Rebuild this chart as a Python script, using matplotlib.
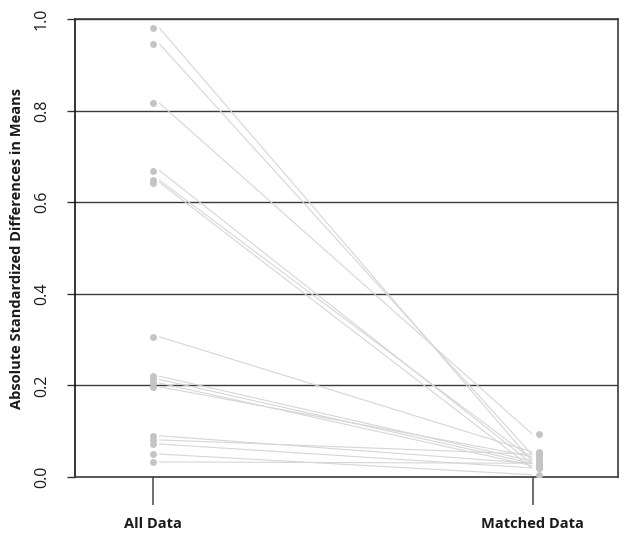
import matplotlib
matplotlib.use("Agg")
import matplotlib.pyplot as plt
import numpy as np

categories = ["All Data", "Matched Data"]
all_data = [0.980, 0.945, 0.816, 0.669, 0.648, 0.643, 0.306, 0.220,
            0.213, 0.205, 0.197, 0.090, 0.081, 0.072, 0.050, 0.033]
matched_data = [0.035, 0.050, 0.095, 0.030, 0.040, 0.020, 0.055, 0.035,
                0.030, 0.025, 0.045, 0.030, 0.050, 0.020, 0.005, 0.030]
yticks = [0.0, 0.2, 0.4, 0.6, 0.8, 1.0]
ytick_labels = ["0.0", "0.2", "0.4", "0.6", "0.8", "1.0"]

fig = plt.figure(figsize=(6.29, 5.39), dpi=100)
ax = fig.add_axes([0.119, 0.115, 0.8635, 0.8497])

ax.set_xlim(-0.205, 1.224)
ax.set_ylim(0, 1.0)

for yv in yticks[1:]:
    ax.axhline(yv, color="#3a3a3a", lw=1.0, zorder=1)

line_color = "#d6d6d6"
dot_color = "#c4c4c4"
for a, m in zip(all_data, matched_data):
    ax.plot([0.018, 0.997], [a, m], color=line_color, lw=0.8, zorder=2)
ax.plot([0] * len(all_data), all_data, "o", color=dot_color, ms=5, mec="none", zorder=3)
ax.plot([1.016] * len(matched_data), matched_data, "o", color=dot_color, ms=5, mec="none", zorder=3)

ax.set_xticks([0, 1])
ax.set_xticklabels(categories, fontsize=10.5, fontweight="bold", fontfamily="Open Sans", color="#1a1a1a")
ax.tick_params(axis="x", length=20, width=1.2, color="#555555", pad=9)

ax.set_yticks(yticks)
ax.set_yticklabels(ytick_labels, rotation=90, va="center", fontsize=11.5,
                   fontfamily="Open Sans", color="#1a1a1a")
ax.tick_params(axis="y", length=6, width=1.0, color="#333333", pad=12)

ax.set_ylabel("Absolute Standardized Differences in Means", fontsize=10.5,
              fontweight="bold", fontfamily="Open Sans", color="#1a1a1a")
ax.yaxis.set_label_coords(-0.094, 0.5)

for s in ax.spines.values():
    s.set_color("#3a3a3a")
    s.set_linewidth(1.2)
ax.spines["left"].set_color("#111111")

fig.savefig("out.png", dpi=100)
